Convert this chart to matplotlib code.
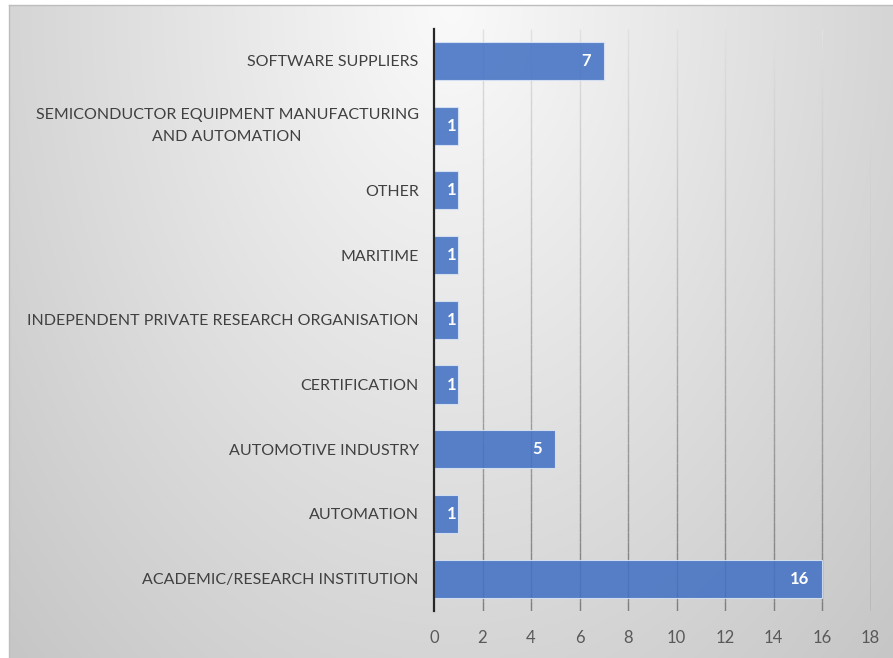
import numpy as np
import matplotlib
matplotlib.use("Agg")
import matplotlib.pyplot as plt
import matplotlib.transforms as mtransforms
from matplotlib.collections import LineCollection

# data (bottom to top, as drawn)
categories = [
    "ACADEMIC/RESEARCH INSTITUTION",
    "AUTOMATION",
    "AUTOMOTIVE INDUSTRY",
    "CERTIFICATION",
    "INDEPENDENT PRIVATE RESEARCH ORGANISATION",
    "MARITIME",
    "OTHER",
    "SEMICONDUCTOR EQUIPMENT MANUFACTURING\nAND AUTOMATION",
    "SOFTWARE SUPPLIERS",
]
counts = [16, 1, 5, 1, 1, 1, 1, 1, 7]
x_ticks = [0, 2, 4, 6, 8, 10, 12, 14, 16, 18]

plt.rcParams['font.family'] = ['Lato', 'DejaVu Sans']

W, H = 893, 658
fig = plt.figure(figsize=(W / 100, H / 100), dpi=100, facecolor='white')

# gradient background panel (radial, light at top centre)
bg = fig.add_axes([9 / W, 0, 1 - 9 / W, 1 - 5 / H], zorder=0)
nx, ny = 300, 220
gx, gy = np.meshgrid(np.linspace(0, 1, nx), np.linspace(0, 1, ny))
d = np.sqrt(((gx - 0.5) / 0.5) ** 2 + gy ** 2) / np.sqrt(2)
shade = (250 - 52 * d) / 255.0
bg.imshow(np.dstack([shade, shade, shade]), aspect='auto', extent=[0, 1, 1, 0],
          interpolation='bilinear')
bg.set_xlim(0, 1)
bg.set_ylim(1, 0)
bg.set_xticks([])
bg.set_yticks([])
for side in ['right', 'bottom']:
    bg.spines[side].set_visible(False)
for side in ['top', 'left']:
    bg.spines[side].set_color('#bdbdbd')
    bg.spines[side].set_linewidth(1.0)

ax = fig.add_axes([434 / W, 1 - 611 / H, (870.5 - 434) / W, (611 - 28.6) / H], zorder=1)
ax.patch.set_alpha(0)

y = np.arange(len(categories))
bars = ax.barh(y, counts, height=0.59, color='#4472C4', alpha=0.88,
               edgecolor='#dbe4f5', linewidth=0.8, zorder=3)

ax.set_xlim(0, 18)
ax.set_ylim(-0.5, len(categories) - 0.5)
ax.set_xticks(x_ticks)
ax.set_yticks(y)
ax.set_yticklabels(categories, multialignment='center', linespacing=1.7)
for lab in ax.get_yticklabels():
    if '\n' in lab.get_text():
        lab.set_verticalalignment('center')
        lab.set_transform(lab.get_transform() +
                          mtransforms.ScaledTranslation(0, -2 / 100, fig.dpi_scale_trans))

# gridlines, darker towards the bottom like the original
segs, cols = [], []
ys = np.linspace(-0.5, len(categories) - 0.5, 60)
for xv in x_ticks[1:]:
    for i in range(len(ys) - 1):
        segs.append([(xv, ys[i]), (xv, ys[i + 1])])
        t = (0.5 * (ys[i] + ys[i + 1]) + 0.5) / len(categories)
        c = (125 + 100 * t) / 255.0
        cols.append((c, c, c))
ax.add_collection(LineCollection(segs, colors=cols, linewidths=1.0, zorder=1))

for s in ['top', 'right', 'bottom']:
    ax.spines[s].set_visible(False)
ax.spines['left'].set_color('#262626')
ax.spines['left'].set_linewidth(1.6)
ax.spines['left'].set_zorder(4)

ax.tick_params(axis='both', length=0, labelsize=11.5, colors='#595959')
ax.tick_params(axis='y', pad=11, labelcolor='#404040')
ax.tick_params(axis='x', pad=14, labelsize=12)

# value labels inside the end of each bar
for yi, v in zip(y, counts):
    off = -2 if v < 2 else -13
    ax.annotate(str(v), (v, yi), xytext=(off, 0), textcoords='offset pixels',
                ha='right', va='center', color='white', fontsize=12,
                fontweight='bold', zorder=5)

fig.savefig('out.png', dpi=100, facecolor='white')
